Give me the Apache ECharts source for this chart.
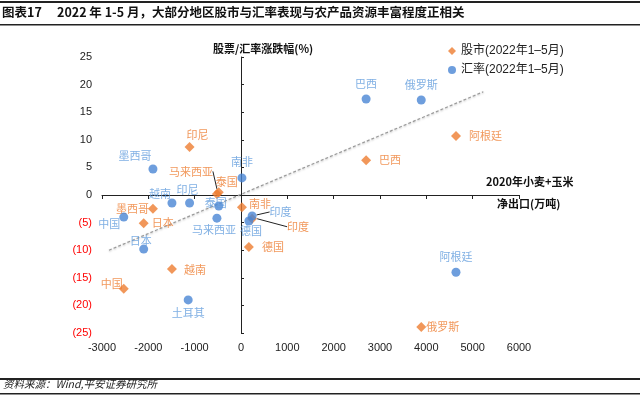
<!DOCTYPE html>
<html>
<head>
<meta charset="utf-8">
<script src="https://cdn.jsdelivr.net/npm/echarts@6/dist/echarts.min.js"></script>
<style>
  html, body { margin: 0; padding: 0; background: #fff; }
  #chart { width: 640px; height: 398px; }
</style>
</head>
<body>
<div id="chart"></div>
<script>
// 股市 (2022年1-5月)
var stockNames = ["巴西", "俄罗斯", "阿根廷", "墨西哥", "南非", "越南", "印尼", "泰国", "马来西亚", "中国", "日本", "印度", "德国"];
var stockX = [2700, 3890, 4640, -1900, 20, -1490, -1110, -480, -520, -2530, -2100, 240, 170];
var stockY = [6.3, -23.9, 10.7, -2.5, -2.2, -13.4, 8.7, 0.5, 0.2, -17.0, -5.1, -4.3, -9.4];

// 汇率 (2022年1-5月)
var fxNames = ["巴西", "俄罗斯", "阿根廷", "墨西哥", "南非", "越南", "印尼", "泰国", "马来西亚", "中国", "日本", "土耳其", "印度", "德国"];
var fxX = [2700, 3890, 4640, -1900, 20, -1490, -1110, -480, -520, -2530, -2100, -1140, 240, 170];
var fxY = [17.4, 17.2, -14.0, 4.7, 3.1, -1.45, -1.45, -2.0, -4.2, -4.0, -9.8, -19.0, -3.8, -4.7];

// 趋势线
var trendX = [-2850, 5230];
var trendY = [-10, 18.7];

var ORANGE = "#ED7D31";
var BLUE = "#4A86D4";
var BLUE_TXT = "#5F9BDC";
var FONT = "'Liberation Sans', Arial, 'Noto Sans CJK SC', sans-serif";
var CJK = "'Noto Sans CJK SC', sans-serif";

// label placement per point: [position, dx, dy, leader line]
var stockLabel = {
  "巴西": ["right", 3, 0],
  "俄罗斯": ["right", -5, 0],
  "阿根廷": ["right", 3, 0],
  "墨西哥": ["left", 6, 0],
  "南非": ["right", -3, -3],
  "越南": ["right", 2, 1],
  "印尼": ["top", 8, 3],
  "泰国": ["top", 8, 5],
  "马来西亚": ["top", -26, -7, true],
  "中国": ["left", 9, -5],
  "日本": ["right", -2, 0],
  "印度": ["right", 25, 8, true],
  "德国": ["right", 3, 0]
};
var fxLabel = {
  "巴西": ["top", 0, 0],
  "俄罗斯": ["top", 0, 0],
  "阿根廷": ["top", 0, 0],
  "墨西哥": ["top", -18, 2],
  "南非": ["top", 0, -1],
  "越南": ["top", -12, 6],
  "印尼": ["top", -2, 2],
  "泰国": ["top", -3, 12],
  "马来西亚": ["bottom", -3, -3],
  "中国": ["left", 6, 7],
  "日本": ["top", -3, 7],
  "土耳其": ["bottom", 0, -2],
  "印度": ["right", 8, -4, true],
  "德国": ["bottom", 2, -5]
};

function buildData(names, xs, ys, place) {
  return names.map(function (n, i) {
    var item = { name: n, value: [xs[i], ys[i]], label: { position: place[n][0] } };
    if (place[n][3]) item.labelLine = { show: true };
    return item;
  });
}

function layoutFn(names, place) {
  return function (p) {
    var q = place[names[p.dataIndex]];
    return { dx: q[1], dy: q[2] };
  };
}

var chart = echarts.init(document.getElementById("chart"));

var option = {
  animation: false,
  textStyle: { fontFamily: FONT },
  grid: { left: 102, right: 121, top: 57, bottom: 65 },
  legend: {
    orient: "vertical",
    left: 443,
    top: 40,
    itemWidth: 8,
    itemHeight: 8,
    itemGap: 7,
    data: ["股市(2022年1–5月)", "汇率(2022年1–5月)"],
    textStyle: { fontSize: 12, color: "#222", fontFamily: FONT }
  },
  xAxis: [
    {
      type: "value", min: -3000, max: 6000, interval: 1000,
      axisLine: { show: false, onZero: false },
      axisTick: { show: false },
      splitLine: { show: false },
      axisLabel: {
        margin: 9, fontSize: 11, color: "#222",
        formatter: function (v) { return String(v); }
      }
    },
    {
      type: "value", min: -3000, max: 6000, interval: 1000, position: "bottom",
      axisLine: { show: true, onZero: true, onZeroAxisIndex: 0, lineStyle: { color: "#222", width: 1 } },
      axisTick: { show: true, length: 4, lineStyle: { color: "#222" } },
      axisLabel: { show: false },
      splitLine: { show: false }
    }
  ],
  yAxis: [
    {
      type: "value", min: -25, max: 25, interval: 5,
      axisLine: { show: false, onZero: false },
      axisTick: { show: false },
      splitLine: { show: false },
      axisLabel: {
        margin: 10, fontSize: 11,
        formatter: function (v) {
          return v < 0 ? "{r|(" + (-v) + ")}" : "{b|" + v + "}";
        },
        rich: {
          r: { color: "#FF0000", fontSize: 11, fontFamily: FONT },
          b: { color: "#222", fontSize: 11, fontFamily: FONT }
        }
      }
    },
    {
      type: "value", min: -25, max: 25, interval: 5, position: "right",
      axisLine: { show: true, onZero: true, onZeroAxisIndex: 0, lineStyle: { color: "#222", width: 1 } },
      axisTick: { show: true, length: 3, lineStyle: { color: "#222" } },
      axisLabel: { show: false },
      splitLine: { show: false }
    }
  ],
  series: [
    {
      name: "趋势线",
      type: "line",
      data: trendX.map(function (x, i) { return [x, trendY[i]]; }),
      symbol: "none",
      silent: true,
      lineStyle: {
        color: "#9A9A9A", width: 1.2, type: [3, 2],
        shadowColor: "rgba(0,0,0,0.25)", shadowBlur: 2, shadowOffsetY: 1
      },
      z: 1
    },
    {
      name: "股市(2022年1–5月)",
      type: "scatter",
      symbol: "diamond",
      symbolSize: 10,
      itemStyle: { color: ORANGE },
      label: { show: true, formatter: "{b}", color: ORANGE, fontSize: 11, fontFamily: CJK, distance: 5 },
      labelLine: { show: false, lineStyle: { color: "#222", width: 1 } },
      labelLayout: layoutFn(stockNames, stockLabel),
      data: buildData(stockNames, stockX, stockY, stockLabel),
      z: 3
    },
    {
      name: "汇率(2022年1–5月)",
      type: "scatter",
      symbol: "circle",
      symbolSize: 9,
      itemStyle: { color: BLUE },
      label: { show: true, formatter: "{b}", color: BLUE_TXT, fontSize: 11, fontFamily: CJK, distance: 5 },
      labelLine: { show: false, lineStyle: { color: "#222", width: 1 } },
      labelLayout: layoutFn(fxNames, fxLabel),
      data: buildData(fxNames, fxX, fxY, fxLabel),
      z: 4
    }
  ],
  graphic: [
    { type: "rect", shape: { x: 0, y: 1, width: 640, height: 2 }, style: { fill: "#222" } },
    { type: "rect", shape: { x: 0, y: 24, width: 640, height: 1.5 }, style: { fill: "#222" } },
    { type: "text", left: 2, top: 6, style: { text: "图表17", font: "bold 12.5px " + CJK, fill: "#111" } },
    { type: "text", left: 57, top: 6, style: { text: "2022 年 1-5 月，大部分地区股市与汇率表现与农产品资源丰富程度正相关", font: "bold 12.5px " + CJK, fill: "#111" } },
    { type: "text", left: 213, top: 43, style: { text: "股票/汇率涨跌幅(%)", font: "bold 11px " + CJK, fill: "#111" } },
    { type: "text", left: 486, top: 176, style: { text: "2020年小麦+玉米", font: "bold 11px " + CJK, fill: "#111" } },
    { type: "text", left: 497, top: 198, style: { text: "净出口(万吨)", font: "bold 11px " + CJK, fill: "#111" } },
    { type: "rect", shape: { x: 0, y: 378, width: 640, height: 2 }, style: { fill: "#222" } },
    { type: "rect", shape: { x: 0, y: 393, width: 640, height: 1.5 }, style: { fill: "#222" } },
    { type: "text", left: 3, top: 379, style: { text: "资料来源：Wind,平安证券研究所", font: "italic 10.5px " + CJK, fill: "#222" } }
  ]
};

chart.setOption(option);
</script>
</body>
</html>
